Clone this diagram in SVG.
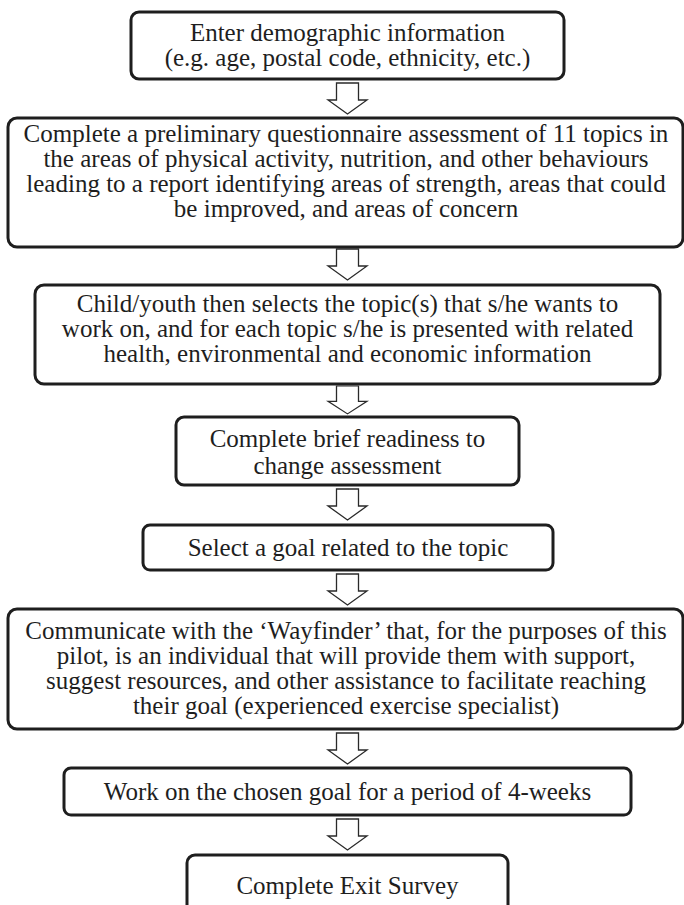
<svg xmlns="http://www.w3.org/2000/svg" xmlns:xlink="http://www.w3.org/1999/xlink" width="684" height="905" viewBox="0 0 684 905">
<defs>
<style>
.box{fill:#fff;stroke:#1e1e1e;stroke-width:3}
.t{font-family:"Liberation Serif","Times New Roman",serif;font-size:25px;fill:#1e1e1e;text-anchor:middle}
.arr{fill:#fff;stroke:#2a2a2a;stroke-width:1.3;stroke-linejoin:miter}
</style>
<path id="a" class="arr" d="M-11,0 H11 V17 H19.5 L0,31 L-19.5,17 H-11 Z"/>
</defs>
<rect width="684" height="905" fill="#fff"/>
<g id="connectors">
<use xlink:href="#a" href="#a" transform="translate(347.5,83)"/>
<use xlink:href="#a" href="#a" transform="translate(347.5,249)"/>
<use xlink:href="#a" href="#a" transform="translate(347.5,386) scale(1,0.9)"/>
<use xlink:href="#a" href="#a" transform="translate(347.5,489)"/>
<use xlink:href="#a" href="#a" transform="translate(347.5,574)"/>
<use xlink:href="#a" href="#a" transform="translate(347.5,733)"/>
<use xlink:href="#a" href="#a" transform="translate(347.5,819)"/>
</g>
<g id="n1">
<rect class="box" x="131" y="12" width="433" height="67" rx="8"/>
<text class="t" x="347.5" y="41">Enter demographic information</text>
<text class="t" x="347.5" y="66">(e.g. age, postal code, ethnicity, etc.)</text>
</g>
<g id="n2">
<rect class="box" x="8" y="118" width="675" height="129" rx="9"/>
<text class="t" x="346" y="142">Complete a preliminary questionnaire assessment of 11 topics in</text>
<text class="t" x="346" y="167">the areas of physical activity, nutrition, and other behaviours</text>
<text class="t" x="346" y="192">leading to a report identifying areas of strength, areas that could</text>
<text class="t" x="346" y="217">be improved, and areas of concern</text>
</g>
<g id="n3">
<rect class="box" x="35" y="285" width="625" height="99" rx="9"/>
<text class="t" x="347.5" y="312">Child/youth then selects the topic(s) that s/he wants to</text>
<text class="t" x="347.5" y="337">work on, and for each topic s/he is presented with related</text>
<text class="t" x="347.5" y="362">health, environmental and economic information</text>
</g>
<g id="n4">
<rect class="box" x="176" y="417" width="343" height="68" rx="8"/>
<text class="t" x="347.5" y="447">Complete brief readiness to</text>
<text class="t" x="347.5" y="474">change assessment</text>
</g>
<g id="n5">
<rect class="box" x="143" y="525" width="410" height="45" rx="7"/>
<text class="t" x="348" y="556">Select a goal related to the topic</text>
</g>
<g id="n6">
<rect class="box" x="8" y="609" width="675" height="120" rx="9"/>
<text class="t" x="346" y="639">Communicate with the ‘Wayfinder’ that, for the purposes of this</text>
<text class="t" x="346" y="664">pilot, is an individual that will provide them with support,</text>
<text class="t" x="346" y="689">suggest resources, and other assistance to facilitate reaching</text>
<text class="t" x="346" y="714">their goal (experienced exercise specialist)</text>
</g>
<g id="n7">
<rect class="box" x="64" y="768" width="567" height="47" rx="7"/>
<text class="t" x="347.5" y="800">Work on the chosen goal for a period of 4-weeks</text>
</g>
<g id="n8">
<rect class="box" x="187" y="855" width="321" height="70" rx="8"/>
<text class="t" x="347.5" y="894">Complete Exit Survey</text>
</g>
</svg>
